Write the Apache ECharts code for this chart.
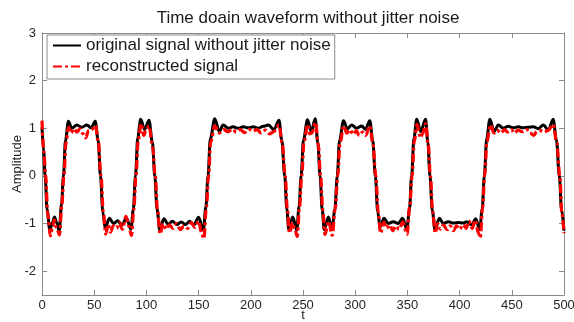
<!DOCTYPE html>
<html>
<head>
<meta charset="utf-8">
<script src="https://cdn.jsdelivr.net/npm/echarts@6/dist/echarts.min.js"></script>
<style>
  html, body { margin: 0; padding: 0; background: #fff; }
  #chart { width: 574px; height: 322px; }
</style>
</head>
<body>
<div id="chart"></div>
<script>
// Original (jitter-free) signal: sample times and amplitudes
var origTime = [
  0, 1.5, 3, 4.8, 7.5, 10, 12, 14, 16.5, 18.7,
  20.5, 22.5, 25.3, 28.5, 33.5, 38, 43, 47, 51, 53.8,
  56, 58.2, 60.5, 64.5, 68.5, 72.5, 76.5, 81, 85.2, 87.5,
  89.5, 91.7, 94.5, 98.3, 102.5, 105.8, 108, 110.2, 112.8, 116.8,
  120.8, 125, 129, 133.5, 137.5, 141.5, 145.5, 150, 154.5, 157,
  159, 161.2, 165.5, 169.8, 173.5, 178.5, 183, 188, 192.8, 197.6,
  202.4, 207.2, 212, 217, 222, 227, 229.7, 232.5, 234.5, 236.3,
  240.2, 244, 246.2, 248.2, 250.4, 254.3, 258, 261.7, 264.2, 266.3,
  268.4, 270.3, 274.3, 277.8, 280.5, 282.8, 285, 288.8, 292.5, 296.6,
  301.4, 306.2, 309.8, 314, 316.8, 319.3, 321.5, 323.8, 327.6, 331.7,
  336.5, 341.3, 345.3, 349.5, 352, 354, 356.2, 358.9, 362.8, 367.4,
  369.6, 371.6, 373.8, 376.4, 380.6, 384.4, 389.2, 394, 398.8, 403.6,
  407, 411.5, 415.5, 419.3, 421.6, 423.7, 425.9, 429, 433, 437.1,
  441.9, 446.6, 451.4, 456.2, 461, 465.8, 470.6, 475.4, 480.2, 485,
  489.6, 492.8, 495.5, 497.6, 500
];
var origAmp = [
  1.02, 0.55, 0, -0.7, -1.13, -0.98, -0.86, -0.98, -1.16, -0.6,
  0, 0.75, 1.15, 1.0, 1.07, 1.02, 1.07, 1.01, 1.15, 0.75,
  0, -0.75, -1.1, -0.89, -1.0, -0.94, -1.03, -0.89, -1.12, -0.7,
  0, 0.8, 1.19, 0.97, 1.17, 0.7, 0, -0.7, -1.13, -0.9,
  -1.02, -0.95, -1.02, -0.97, -1.02, -0.95, -1.03, -0.87, -1.14, -0.65,
  0, 0.78, 1.2, 0.93, 1.07, 1.0, 1.03, 1.0, 1.03, 1.01,
  1.03, 1.0, 1.04, 1.07, 0.97, 1.17, 0.75, 0, -0.7, -1.12,
  -0.86, -1.14, -0.65, 0, 0.75, 1.18, 0.93, 1.2, 0.7, 0,
  -0.72, -1.13, -0.86, -1.13, -0.7, 0, 0.75, 1.16, 0.99, 1.07,
  1.0, 1.05, 0.98, 1.16, 0.75, 0, -0.75, -1.07, -0.89, -1.0,
  -0.96, -1.0, -0.89, -1.11, -0.7, 0, 0.78, 1.19, 0.93, 1.19,
  0.7, 0, -0.72, -1.13, -0.89, -1.0, -0.96, -0.99, -0.98, -0.99,
  -0.96, -1.03, -0.9, -1.13, -0.7, 0, 0.78, 1.19, 0.93, 1.07,
  1.0, 1.04, 1.01, 1.03, 1.01, 1.02, 1.03, 0.99, 1.07, 0.96,
  1.19, 0.75, 0, -0.7, -1.15
];

// Reconstructed signal: sample times and amplitudes
var reconTime = [
  0, 1.8, 3.5, 5.5, 8, 10.2, 11.8, 13.8, 16.8, 19,
  21, 23, 25.5, 27.8, 30.5, 33.5, 36.5, 39.5, 42, 44.5,
  47.5, 51.2, 54, 56.5, 58.7, 61, 63.5, 65.5, 68.5, 71.5,
  74, 77, 80.5, 83, 85.7, 88, 90, 92.2, 95, 97.5,
  99.5, 102.5, 106, 108.5, 110.7, 113.2, 116, 119, 122, 125.5,
  129, 132.5, 136, 139.5, 143, 146.5, 150, 153, 155, 157.5,
  159.5, 161.6, 165.5, 169.5, 174, 178, 182.5, 186, 190, 194,
  198, 202, 206, 210, 214, 218, 222, 227, 230, 233,
  235, 237, 240, 242, 244.5, 246.7, 248.8, 251, 254.5, 256.5,
  258.5, 262, 264.7, 266.8, 269, 271, 274.5, 278, 280.8, 283.3,
  285.5, 289, 292, 295, 298, 301, 304, 307, 310, 314,
  316.8, 319.8, 322, 324.3, 327.5, 330, 333, 336, 339, 342,
  345.5, 349.7, 352.2, 354.5, 356.6, 359.2, 362.5, 364.5, 367.5, 370,
  372, 374.2, 376.7, 379, 381.5, 384.5, 388, 391, 394, 397,
  400, 403.5, 406.5, 409, 412, 415, 418, 419.8, 422, 424,
  426.2, 429.5, 433, 436, 439.5, 443, 446, 449.5, 452.5, 456,
  460, 464, 467.5, 471, 474, 477.5, 481, 485, 489.8, 493,
  496, 498, 500
];
var reconAmp = [
  1.16, 0.5, 0, -0.8, -1.26, -1.05, -0.92, -1.08, -1.24, -0.6,
  0, 0.7, 1.02, 0.9, 0.99, 0.92, 0.99, 0.88, 0.8, 0.95,
  0.97, 1.06, 0.7, 0, -0.75, -1.22, -1.02, -1.18, -1.05, -1.1,
  -0.98, -1.12, -0.85, -1.05, -1.25, -0.7, 0, 0.75, 1.1, 0.85,
  0.95, 1.05, 0.6, 0, -0.75, -1.22, -1.0, -1.12, -1.03, -1.1,
  -1.0, -1.13, -1.05, -1.1, -0.98, -1.08, -0.95, -1.2, -1.32, -0.65,
  0, 0.72, 1.05, 0.9, 0.97, 0.93, 0.98, 0.92, 0.97, 0.91,
  0.98, 0.94, 0.97, 0.9, 0.96, 0.88, 0.93, 1.07, 0.7, 0,
  -0.7, -1.2, -0.98, -1.1, -1.27, -0.65, 0, 0.72, 1.08, 0.88,
  0.9, 1.12, 0.65, 0, -0.72, -1.23, -0.95, -1.25, -0.7, 0,
  0.7, 1.05, 0.9, 0.97, 0.87, 0.95, 0.85, 0.92, 0.85, 1.05,
  0.7, 0, -0.75, -1.2, -0.97, -1.1, -1.03, -1.15, -1.05, -1.12,
  -0.97, -1.22, -0.65, 0, 0.72, 1.08, 0.8, 0.88, 1.1, 0.65,
  0, -0.75, -1.2, -1.0, -1.12, -1.03, -1.13, -1.05, -1.15, -1.05,
  -1.12, -1.02, -1.1, -0.95, -1.1, -0.93, -1.2, -1.3, -0.68, 0,
  0.72, 1.07, 0.9, 0.96, 0.9, 0.97, 0.92, 0.97, 0.9, 0.96,
  0.93, 0.98, 0.9, 0.85, 0.93, 0.95, 0.92, 0.96, 1.08, 0.7,
  0, -0.8, -1.2
];

var xTicks = { min: 0, max: 500, step: 50 };
var yRange = { min: -2.5, max: 3 };

function zip(ts, vs) {
  return ts.map(function (t, i) { return [t, vs[i]]; });
}

var FONT = 'Liberation Sans, Arial, Helvetica, sans-serif';
var frameColor = '#8a8a8a';
var labelColor = '#262626';

var chart = echarts.init(document.getElementById('chart'), null, { renderer: 'canvas' });

var hiddenAxisBase = {
  axisLine: { show: true, onZero: false, lineStyle: { color: frameColor, width: 1 } },
  axisTick: { show: true, inside: true, length: 5, lineStyle: { color: frameColor } },
  axisLabel: { show: false },
  splitLine: { show: false }
};

chart.setOption({
  animation: false,
  backgroundColor: '#ffffff',
  title: {
    text: 'Time doain waveform without jitter noise',
    left: 303,
    textAlign: 'center',
    top: 5,
    textStyle: { fontFamily: FONT, fontSize: 17, fontWeight: 'normal', color: '#1a1a1a' }
  },
  grid: { left: 42, right: 10, top: 33, bottom: 27, containLabel: false, outerBoundsMode: 'none' },
  legend: {
    orient: 'vertical',
    left: 47,
    top: 35,
    padding: [2, 4, 4, 5],
    itemGap: 4,
    itemWidth: 28,
    itemHeight: 17,
    backgroundColor: '#ffffff',
    borderColor: frameColor,
    borderWidth: 1,
    borderRadius: 0,
    itemStyle: { opacity: 0 },
    textStyle: { fontFamily: FONT, fontSize: 17, color: '#1a1a1a' },
    data: ['original signal without jitter noise', 'reconstructed signal']
  },
  xAxis: [
    {
      type: 'value',
      position: 'bottom',
      min: xTicks.min,
      max: xTicks.max,
      interval: xTicks.step,
      name: 't',
      nameLocation: 'middle',
      nameGap: 14,
      nameMoveOverlap: false,
      nameTextStyle: { fontFamily: FONT, fontSize: 13, color: labelColor },
      axisLine: { show: true, onZero: false, lineStyle: { color: frameColor, width: 1 } },
      axisTick: { show: true, inside: true, length: 5, lineStyle: { color: frameColor } },
      axisLabel: { fontFamily: FONT, fontSize: 13, color: labelColor, margin: 4 },
      splitLine: { show: false }
    },
    Object.assign({
      type: 'value',
      position: 'top',
      min: xTicks.min,
      max: xTicks.max,
      interval: xTicks.step
    }, hiddenAxisBase)
  ],
  yAxis: [
    {
      type: 'value',
      position: 'left',
      min: yRange.min,
      max: yRange.max,
      splitNumber: 5,
      minInterval: 1,
      maxInterval: 1,
      name: 'Amplitude',
      nameLocation: 'middle',
      nameGap: 18,
      nameMoveOverlap: false,
      nameTextStyle: { fontFamily: FONT, fontSize: 13, color: labelColor },
      axisLine: { show: true, onZero: false, lineStyle: { color: frameColor, width: 1 } },
      axisTick: { show: true, inside: true, length: 5, lineStyle: { color: frameColor } },
      axisLabel: {
        fontFamily: FONT, fontSize: 13, color: labelColor, margin: 6,
        formatter: function (v) { return Number.isInteger(v) ? String(v) : ''; }
      },
      splitLine: { show: false }
    },
    Object.assign({
      type: 'value',
      position: 'right',
      min: yRange.min,
      max: yRange.max,
      splitNumber: 5,
      minInterval: 1,
      maxInterval: 1
    }, hiddenAxisBase)
  ],
  series: [
    {
      name: 'original signal without jitter noise',
      type: 'line',
      data: zip(origTime, origAmp),
      showSymbol: false,
      symbol: 'none',
      smooth: 0.35,
      smoothMonotone: 'x',
      lineStyle: { color: '#000000', width: 3 },
      itemStyle: { color: '#000000' },
      z: 2
    },
    {
      name: 'reconstructed signal',
      type: 'line',
      data: zip(reconTime, reconAmp),
      showSymbol: false,
      symbol: 'none',
      smooth: 0.35,
      smoothMonotone: 'x',
      lineStyle: { color: '#ff0000', width: 3.2, type: [9, 3, 3, 3] },
      itemStyle: { color: '#ff0000' },
      z: 3
    }
  ]
});
</script>
</body>
</html>
